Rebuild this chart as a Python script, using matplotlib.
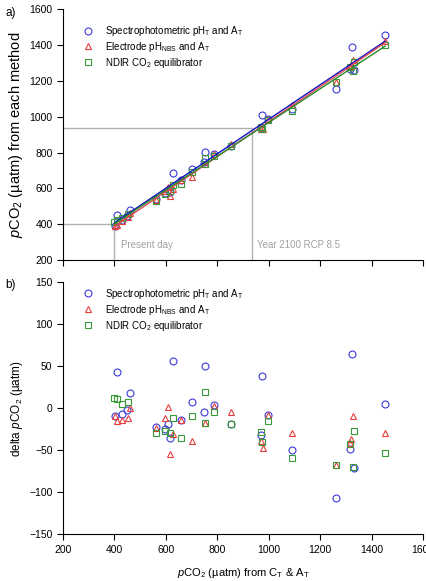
import numpy as np
import matplotlib
matplotlib.use("Agg")
import matplotlib.pyplot as plt

plt.rcParams['font.family'] = ['Liberation Sans', 'DejaVu Sans']
plt.rcParams['mathtext.fontset'] = 'custom'
plt.rcParams['mathtext.rm'] = 'Liberation Sans'
plt.rcParams['mathtext.it'] = 'Liberation Sans:italic'
plt.rcParams['mathtext.bf'] = 'Liberation Sans:bold'

# pCO2 from CT & AT (x) and delta pCO2 (method - reference) for each method
spec_x = [401, 410, 429, 450, 459, 560, 597, 608, 615, 628, 660, 702, 750, 752,
          787, 853, 971, 974, 998, 1092, 1263, 1317, 1325, 1330, 1453]
spec_d = [-9, 43, -7, -2, 18, -22, -25, -19, -35, 56, -14, 8, -5, 50,
          4, -19, -32, 38, -8, -50, -107, -49, 65, -71, 5]

elec_x = [401, 410, 429, 451, 462, 560, 598, 608, 615, 628, 660, 702, 751, 787,
          855, 972, 976, 998, 1092, 1263, 1317, 1320, 1327, 1453]
elec_d = [-9, -15, -14, -11, 0, -24, -12, 2, -55, -31, -14, -39, -17, 3,
          -5, -39, -47, -8, -29, -68, -41, -37, -9, -30]

ndir_x = [400, 410, 429, 452, 560, 597, 615, 628, 660, 702, 751, 751, 787, 853,
          971, 974, 998, 1092, 1263, 1317, 1327, 1330, 1453]
ndir_d = [12, 11, 5, 7, -29, -27, -30, -11, -35, -9, 19, -17, -4, -19,
          -28, -40, -15, -59, -68, -42, -70, -27, -53]

labels = ['Spectrophotometric pH$_\\mathrm{T}$ and A$_\\mathrm{T}$',
          'Electrode pH$_\\mathrm{NBS}$ and A$_\\mathrm{T}$',
          'NDIR CO$_2$ equilibrator']
present_day = 400
rcp85_2100 = 936

series = [(spec_x, spec_d, 'o', '#3a3ad8', '#1010c8'),
          (elec_x, elec_d, '^', '#e83c3c', '#e04858'),
          (ndir_x, ndir_d, 's', '#3a9a3a', '#2a8a2a')]

fig = plt.figure(figsize=(4.27, 5.81), dpi=100)
ax1 = fig.add_axes([0.1475, 0.5525, 0.8431, 0.4315])
ax2 = fig.add_axes([0.1475, 0.0804, 0.8431, 0.4337])

# reference lines
ax1.plot([200, present_day], [present_day, present_day], color='#b0b0b0', lw=1)
ax1.plot([present_day, present_day], [200, present_day], color='#b0b0b0', lw=1)
ax1.plot([200, rcp85_2100], [rcp85_2100, rcp85_2100], color='#b0b0b0', lw=1)
ax1.plot([rcp85_2100, rcp85_2100], [200, rcp85_2100], color='#b0b0b0', lw=1)
ax1.text(427, 283, 'Present day', color='#a0a0a0', fontsize=7, va='center')
ax1.text(956, 283, 'Year 2100 RCP 8.5', color='#a0a0a0', fontsize=7, va='center')

for (xs, ds, mk, c, lc), lab in zip(series, labels):
    xs = np.array(xs, dtype=float)
    ys = xs + np.array(ds, dtype=float)
    ax1.plot(xs, ys, mk, mfc='none', mec=c, ms=5, mew=0.8, label=lab)
    ax2.plot(xs, ds, mk, mfc='none', mec=c, ms=5, mew=0.8, label=lab)

for (xs, ds, mk, c, lc) in series:
    xs = np.array(xs, dtype=float)
    ys = xs + np.array(ds, dtype=float)
    k, b = np.polyfit(xs, ys, 1)
    xx = np.array([xs.min(), xs.max()])
    ax1.plot(xx, k * xx + b, color=lc, lw=1)

for ax, anchor in ((ax1, (0.04, 0.965)), (ax2, (0.04, 1.005))):
    ax.spines['top'].set_visible(False)
    ax.spines['right'].set_visible(False)
    ax.spines['left'].set_linewidth(0.8)
    ax.spines['bottom'].set_linewidth(0.8)
    ax.tick_params(direction='out', length=4, width=0.8, labelsize=7.5)
    ax.set_xlim(200, 1600)
    ax.set_xticks(np.arange(200, 1601, 200))
    ax.legend(loc='upper left', bbox_to_anchor=anchor, frameon=False,
              fontsize=7, handlelength=1.0, handletextpad=1.2, labelspacing=0.2,
              borderaxespad=0.2)

ax1.set_ylim(200, 1600)
ax1.set_yticks(np.arange(200, 1601, 200))
ax1.set_xticklabels([])
ax1.set_ylabel('$\\it{p}$CO$_2$ (µatm) from each method', fontsize=10.5, labelpad=3)

ax2.set_ylim(-150, 150)
ax2.set_yticks(np.arange(-150, 151, 50))
ax2.set_ylabel('delta $\\it{p}$CO$_2$ (µatm)', fontsize=8.5, labelpad=3)
ax2.set_xlabel('$\\it{p}$CO$_2$ (µatm) from C$_\\mathrm{T}$ & A$_\\mathrm{T}$', fontsize=8, labelpad=8)

fig.text(0.012, 0.978, 'a)', fontsize=8.5, va='center')
fig.text(0.012, 0.509, 'b)', fontsize=8.5, va='center')

fig.savefig('out.png', dpi=100)
